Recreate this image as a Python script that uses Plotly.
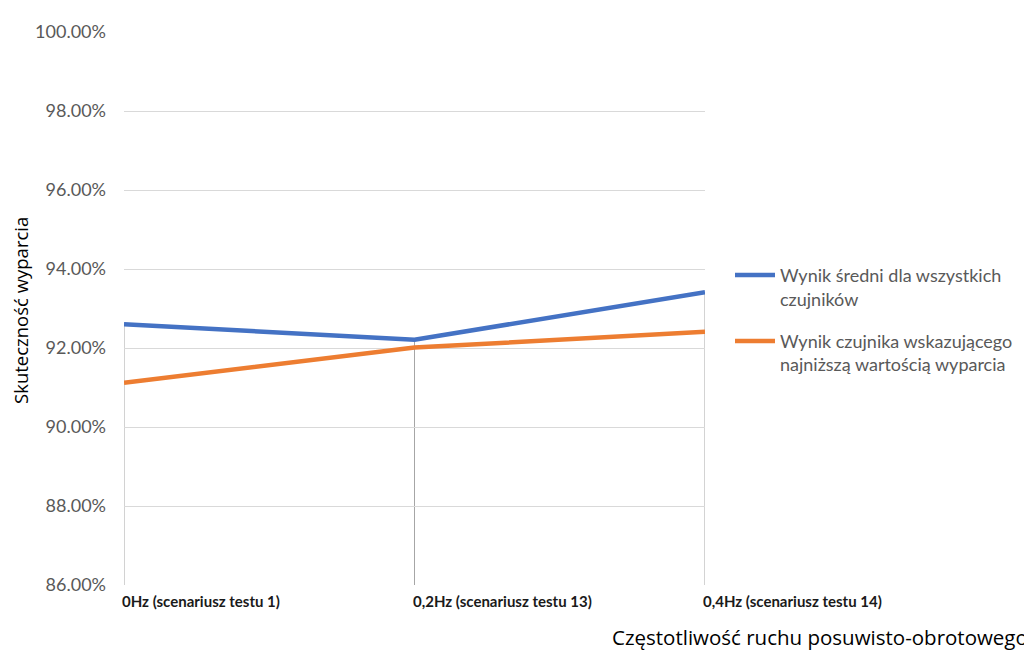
import plotly.graph_objects as go

categories = ["0Hz (scenariusz testu 1)", "0,2Hz (scenariusz testu 13)", "0,4Hz (scenariusz testu 14)"]
avg_all = [0.9260, 0.9221, 0.9341]
lowest = [0.9112, 0.9201, 0.9241]
series_names = ["Wynik średni dla wszystkich<br>czujników", "Wynik czujnika wskazującego<br>najniższą wartością wyparcia"]
y_ticks = [0.86, 0.88, 0.90, 0.92, 0.94, 0.96, 0.98, 1.00]

xpos = list(range(len(categories)))
FONT = "Lato, Open Sans, sans-serif"
TFONT = "Open Sans, sans-serif"

# page body has an 8px margin; figure is 1024x645 placed at (8,8)
W, H = 1024, 645
L, R, T, B = 116, 327, 20, 68
PW, PH = W - L - R, H - T - B


def px_x(sx):
    return (sx - 8 - L) / PW


def px_y(sy):
    return 1 - (sy - 8 - T) / PH


fig = go.Figure()
fig.add_trace(go.Scatter(x=xpos, y=avg_all, mode="lines", name=series_names[0], legendgroup="a",
                         line=dict(color="#4472C4", width=4.5)))
fig.add_trace(go.Scatter(x=xpos, y=lowest, mode="lines", name=series_names[1], legendgroup="b",
                         line=dict(color="#ED7D31", width=4.5)))

fig.update_layout(
    width=W, height=H,
    margin=dict(l=L, r=R, t=T, b=B),
    paper_bgcolor="white", plot_bgcolor="white",
    font=dict(family=FONT, color="#595959"),
    legend=dict(x=px_x(735) - 5 / PW, y=px_y(318), xanchor="left", yanchor="middle",
                font=dict(size=18, color="#595959", family=FONT),
                tracegroupgap=16, itemwidth=40, traceorder="grouped", valign="top"),
    xaxis=dict(range=[0, len(categories) - 1], tickvals=xpos, showticklabels=False,
               showgrid=False, zeroline=False, showline=False, fixedrange=True),
    yaxis=dict(range=[0.86, 1.00], tickvals=y_ticks, tickformat=".2%",
               showgrid=True, gridcolor="#d9d9d9", gridwidth=1, zeroline=False,
               showline=False, ticks="", ticklabelstandoff=17,
               tickfont=dict(size=18, color="#595959", family=FONT)),
    showlegend=True,
)

# drop lines from the highest point of each category down to the axis
for i in range(len(categories)):
    top = max(avg_all[i], lowest[i])
    fig.add_shape(type="line", xref="x", yref="y", x0=xpos[i], x1=xpos[i], y0=y_ticks[0], y1=top,
                  line=dict(color="#a6a6a6", width=1), layer="below")

for i, c in enumerate(categories):
    fig.add_annotation(x=xpos[i], y=0, xref="x", yref="paper", text="<b>" + c + "</b>",
                       showarrow=False, xanchor="left", yanchor="top", xshift=-4, yshift=-5,
                       font=dict(size=15, color="#1a1a1a", family=FONT))

fig.add_annotation(x=px_x(21), y=px_y(309), xref="paper", yref="paper", text="Skuteczność wyparcia",
                   showarrow=False, textangle=-90, xanchor="center", yanchor="middle",
                   font=dict(size=18.5, color="#000000", family=TFONT))

fig.add_annotation(x=px_x(1029), y=px_y(652), xref="paper", yref="paper",
                   text="Częstotliwość ruchu posuwisto-obrotowego",
                   showarrow=False, xanchor="right", yanchor="bottom", yshift=-0,
                   borderpad=0,
                   font=dict(size=20.5, color="#000000", family=TFONT))

fig.write_html("out.html")
